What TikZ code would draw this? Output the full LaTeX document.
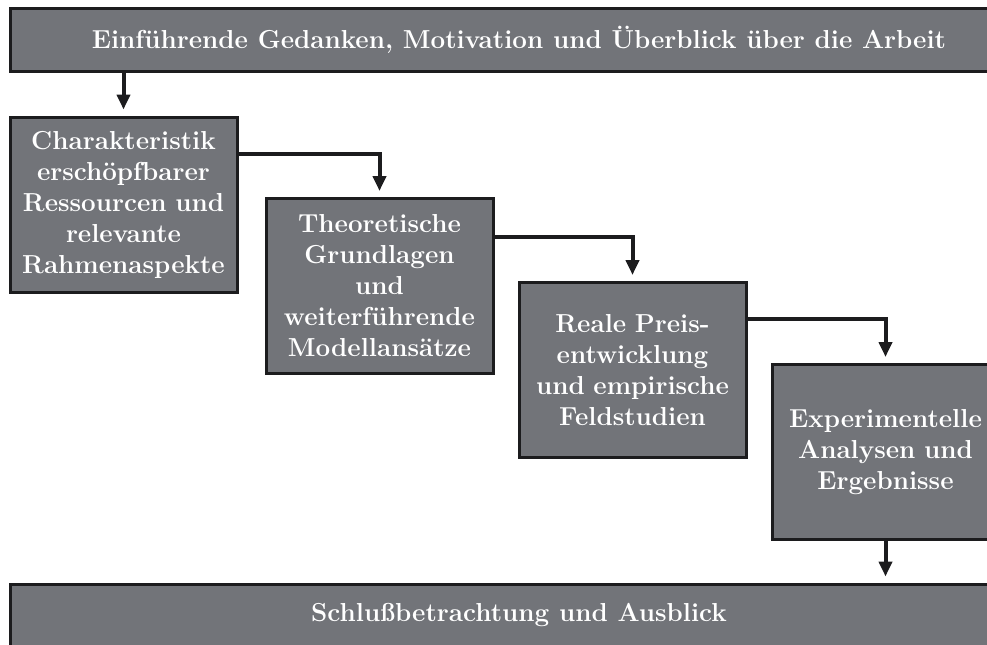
\documentclass[tikz,border=0pt]{standalone}
\usepackage{fontspec}
\usetikzlibrary{arrows.meta}
\definecolor{boxgray}{RGB}{114,116,121}
\definecolor{boxline}{RGB}{28,28,30}
\tikzset{
  stage/.style={rectangle, draw=boxline, line width=1.5pt, fill=boxgray,
    text=white, font=\fontsize{13}{15.5}\selectfont\bfseries, align=center,
    inner sep=0pt, minimum width=113.5pt, minimum height=87.5pt, text width=110pt},
  wide/.style={rectangle, draw=boxline, line width=1.5pt, fill=boxgray,
    text=white, font=\fontsize{13}{15.5}\selectfont\bfseries, align=center,
    inner sep=0pt, minimum width=509pt, minimum height=31.5pt},
  conn/.style={draw=boxline, line width=2pt, shorten >=3pt,
    -{Triangle[width=6.5pt,length=7.5pt]}}
}
\begin{document}
\begin{tikzpicture}[x=0.5pt,y=-0.5pt]
\useasboundingbox (0,0) rectangle (987,644);
\clip (0,0) rectangle (987,644);
\node[wide] (top) at (519,39.5) {Einführende Gedanken, Motivation und Überblick über die Arbeit};
\node[stage] (b1) at (123.5,204.5) {Charakteristik\\erschöpfbarer\\Ressourcen und\\relevante\\Rahmenaspekte};
\node[stage] (b2) at (379.5,286) {Theoretische\\Grundlagen\\und\\weiterführende\\Modellansätze};
\node[stage] (b3) at (632.5,370) {Reale Preis-\\entwicklung\\und empirische\\Feldstudien};
\node[stage] (b4) at (885.5,452) {Experimentelle\\Analysen und\\Ergebnisse};
\node[wide] (bot) at (519,615.5) {Schlußbetrachtung und Ausblick};
\draw[conn] (top.south -| b1.north) -- (b1.north);
\draw[conn] ([yshift=-19pt]b1.north east) -| (b2.north);
\draw[conn] ([yshift=-20pt]b2.north east) -| (b3.north);
\draw[conn] ([yshift=-19pt]b3.north east) -| (b4.north);
\draw[conn] (b4.south) -- (bot.north -| b4.south);
\end{tikzpicture}
\end{document}
